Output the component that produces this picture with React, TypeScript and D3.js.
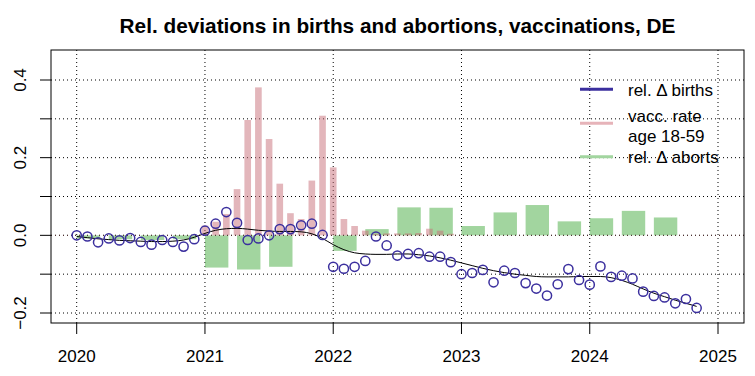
import React from "react";
import * as d3 from "d3";

const years = [2020, 2021, 2022, 2023, 2024, 2025];
const yTicks = [-0.2, -0.1, 0, 0.1, 0.2, 0.3, 0.4];
const yLabels = [-0.2, 0, 0.2, 0.4];

// monthly relative deviation in births, Jan 2020 .. Nov 2024
const births = [
  0.0, -0.003, -0.018, -0.008, -0.013, -0.007, -0.017, -0.024, -0.012, -0.017, -0.029, -0.01,
  0.012, 0.03, 0.06, 0.032, -0.012, -0.008, 0.0, 0.016, 0.016, 0.026, 0.03, 0.001,
  -0.081, -0.086, -0.081, -0.066, -0.003, -0.026, -0.052, -0.048, -0.046, -0.055, -0.055, -0.069,
  -0.1, -0.097, -0.089, -0.121, -0.091, -0.097, -0.123, -0.137, -0.155, -0.126, -0.087, -0.115,
  -0.127, -0.08, -0.107, -0.104, -0.111, -0.145, -0.156, -0.16, -0.175, -0.164, -0.187,
];

// smoothed births, Jan 2020 .. Nov 2024
const birthsSmooth = [
  -0.003, -0.006, -0.009, -0.011, -0.013, -0.014, -0.015, -0.016, -0.016, -0.015, -0.012, -0.005,
  0.005, 0.013, 0.017, 0.018, 0.016, 0.013, 0.011, 0.01, 0.01, 0.009, 0.004, -0.008,
  -0.024, -0.037, -0.045, -0.048, -0.049, -0.049, -0.048, -0.048, -0.05, -0.053, -0.058, -0.064,
  -0.071, -0.078, -0.085, -0.091, -0.096, -0.1, -0.103, -0.106, -0.107, -0.107, -0.107, -0.106,
  -0.106, -0.106, -0.109, -0.116, -0.126, -0.138, -0.149, -0.158, -0.167, -0.175, -0.183,
];

// monthly vaccination rate age 18-59, Jan 2021 .. Dec 2022
const vaccStart = 2021;
const vacc = [
  0.025, 0.035, 0.055, 0.119, 0.297, 0.381, 0.248, 0.133, 0.057, 0.042, 0.141, 0.308,
  0.175, 0.042, 0.024, 0.012, 0.004, 0.005, 0.005, 0.005, 0.006, 0.017, 0.012, 0.004,
];

// quarterly relative deviation in abortions, Q1 2020 .. Q4 2024
const aborts: (number | null)[] = [
  -0.008, -0.01, -0.012, -0.01,
  -0.083, -0.088, -0.081, null,
  -0.04, 0.016, 0.072, 0.071,
  0.024, 0.059, 0.078, 0.036,
  0.044, 0.063, 0.046, null,
];

const legendItems = [
  { lines: ["rel. \u0394 births"], color: "#3b2f9e" },
  { lines: ["vacc. rate", "age 18-59"], color: "#e6b3b9" },
  { lines: ["rel. \u0394 aborts"], color: "#a2d59f" },
];

const W = 755;
const H = 376;
const box = { left: 51, right: 744, top: 50, bottom: 323 };
const font = "'Liberation Sans', Arial, Helvetica, sans-serif";

export default function App() {
  const x = d3.scaleLinear().domain([2020, 2025]).range([76.7, 718]);
  const y = d3.scaleLinear().domain([-0.2, 0.4]).range([313, 80]);
  const monthX = (m: number) => x(2020 + m / 12);
  const monthW = x(2020 + 1 / 12) - x(2020);
  const pinkW = monthW * 0.62;
  const greenW = monthW * 3 * 0.73;

  const line = d3
    .line<number>()
    .x((_, i) => monthX(i))
    .y((d) => y(d))
    .curve(d3.curveMonotoneX);

  const legendLineY = [89.3, 123.3, 156.7];
  const legendTextY = [[95.7], [121.7, 141.7], [163.3]];

  return (
    <svg
      width={W}
      height={H}
      style={{ position: "absolute", left: 0, top: 0, background: "#fff" }}
      fontFamily={font}
    >
      <rect x={0} y={0} width={W} height={H} fill="#fff" />
      <text x={(box.left + box.right) / 2} y={32.5} textAnchor="middle" fontSize={20.8} fontWeight="bold" fill="#000">
        Rel. deviations in births and abortions, vaccinations, DE
      </text>

      {/* grid */}
      {yTicks.map((t) => (
        <line key={"gy" + t} x1={box.left} x2={box.right} y1={y(t)} y2={y(t)} stroke="#000" strokeWidth={1} strokeDasharray="1,3" />
      ))}
      {years.map((yr) => (
        <line key={"gx" + yr} x1={x(yr)} x2={x(yr)} y1={box.top} y2={box.bottom} stroke="#000" strokeWidth={1} strokeDasharray="1,3" />
      ))}

      {/* abortion bars */}
      {aborts.map((v, i) =>
        v === null ? null : (
          <rect
            key={"a" + i}
            x={x(2020 + i / 4)}
            width={greenW}
            y={Math.min(y(v), y(0))}
            height={Math.abs(y(v) - y(0))}
            fill="rgb(100,185,95)"
            fillOpacity={0.6}
          />
        )
      )}

      {/* vaccination bars */}
      {vacc.map((v, i) => (
        <rect
          key={"v" + i}
          x={x(vaccStart + i / 12) - pinkW / 2}
          width={pinkW}
          y={y(v)}
          height={y(0) - y(v)}
          fill="rgb(200,110,120)"
          fillOpacity={0.5}
        />
      ))}

      <line x1={box.left} x2={box.right} y1={y(0)} y2={y(0)} stroke="#553333" strokeWidth={1} strokeDasharray="1,3" />

      {/* smooth births */}
      <path d={line(birthsSmooth) || ""} fill="none" stroke="#000" strokeWidth={1} />

      {/* births points */}
      {births.map((v, i) => (
        <circle key={"b" + i} cx={monthX(i)} cy={y(v)} r={4.6} fill="none" stroke="#3b2f9e" strokeWidth={1.5} />
      ))}

      {/* box */}
      <rect x={box.left} y={box.top} width={box.right - box.left} height={box.bottom - box.top} fill="none" stroke="#000" strokeWidth={1} />

      {/* x axis */}
      {years.map((yr) => (
        <g key={"xt" + yr}>
          <line x1={x(yr)} x2={x(yr)} y1={box.bottom} y2={box.bottom + 11} stroke="#000" />
          <text x={x(yr)} y={362} textAnchor="middle" fontSize={17} fill="#000">
            {yr}
          </text>
        </g>
      ))}

      {/* y axis */}
      {yTicks.map((t) => (
        <line key={"yt" + t} x1={box.left - 11} x2={box.left} y1={y(t)} y2={y(t)} stroke="#000" />
      ))}
      {yLabels.map((t) => (
        <text
          key={"yl" + t}
          transform={`translate(25.5,${y(t)}) rotate(-90)`}
          textAnchor="middle"
          fontSize={17}
          fill="#000"
        >
          {d3.format(".1f")(t)}
        </text>
      ))}

      {/* legend */}
      {legendItems.map((it, i) => (
        <g key={"lg" + i}>
          <line x1={580} x2={613} y1={legendLineY[i]} y2={legendLineY[i]} stroke={it.color} strokeWidth={3} />
          {it.lines.map((t, j) => (
            <text key={j} x={628} y={legendTextY[i][j]} fontSize={17} fill="#000">
              {t}
            </text>
          ))}
        </g>
      ))}
    </svg>
  );
}
